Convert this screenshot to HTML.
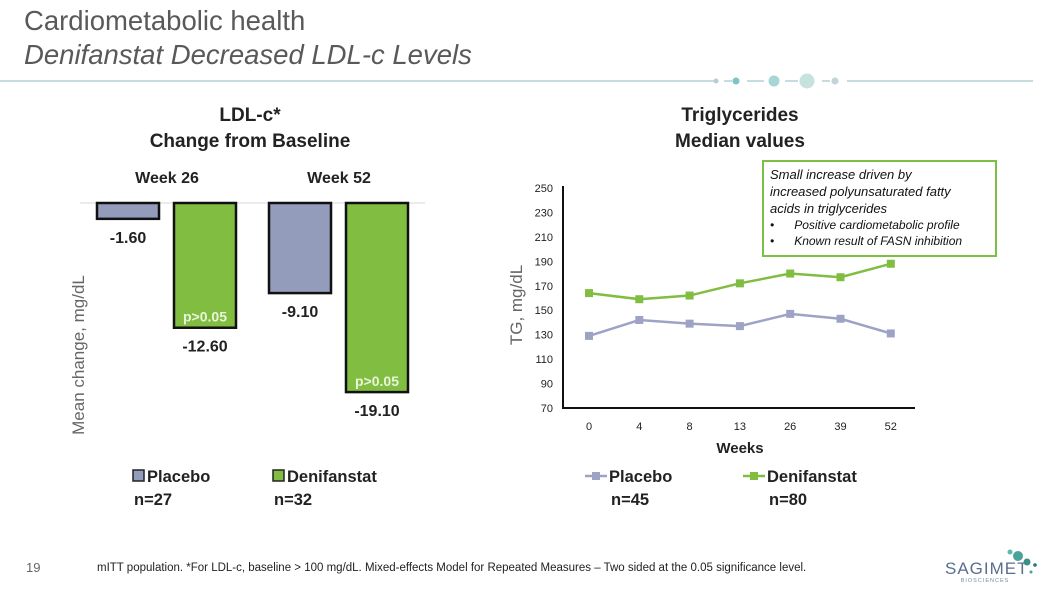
<!DOCTYPE html>
<html><head><meta charset="utf-8">
<style>
body{margin:0;width:1050px;height:591px;background:#fff;font-family:"Liberation Sans",sans-serif;overflow:hidden;position:relative}
.t{position:absolute;white-space:nowrap}
</style></head><body>
<div class="t" style="left:24px;top:4px;font-size:27.5px;color:#595959;line-height:34px">Cardiometabolic health<br><i>Denifanstat Decreased LDL-c Levels</i></div>
<svg class="t" style="left:0;top:0" width="1050" height="100">
<line x1="0" y1="81" x2="715" y2="81" stroke="#8fb8c0" stroke-width="1"/>
<circle cx="716" cy="81" r="2.5" fill="#b8cdd3"/><line x1="724" y1="81" x2="732" y2="81" stroke="#8fb8c0"/>
<circle cx="736" cy="81" r="3.5" fill="#7cc4c6"/><line x1="747" y1="81" x2="764" y2="81" stroke="#8fb8c0"/>
<circle cx="774" cy="81" r="5.5" fill="#a8d6d4"/><line x1="785" y1="81" x2="798" y2="81" stroke="#8fb8c0"/>
<circle cx="807" cy="81" r="7.5" fill="#c6e2dd"/><line x1="822" y1="81" x2="830" y2="81" stroke="#8fb8c0"/>
<circle cx="835" cy="81" r="3.5" fill="#c2d4da"/>
<line x1="847" y1="81" x2="1033" y2="81" stroke="#8fb8c0"/>
</svg>
<div class="t" style="left:110px;width:280px;top:103px;text-align:center;font-size:19px;font-weight:bold;color:#222;line-height:26px">LDL-c*<br>Change from Baseline</div>
<div class="t" style="left:600px;width:280px;top:103px;text-align:center;font-size:19px;font-weight:bold;color:#222;line-height:26px">Triglycerides<br>Median values</div>

<svg class="t" id="bar" style="left:0;top:0" width="500" height="540"></svg>
<svg class="t" id="line" style="top:0;left:480px" width="570" height="540"></svg>

<div class="t" style="left:762px;top:160px;width:235px;height:97px;border:2px solid #7dbf45;padding:4px 0 0 6px;box-sizing:border-box;font-style:italic;color:#111;font-size:13px;line-height:17px">Small increase driven by<br>increased polyunsaturated fatty<br>acids in triglycerides
<div style="font-size:12px;line-height:16px">•&nbsp;&nbsp;&nbsp;&nbsp;&nbsp;&nbsp;Positive cardiometabolic profile<br>•&nbsp;&nbsp;&nbsp;&nbsp;&nbsp;&nbsp;Known result of FASN inhibition</div></div>

<div class="t" style="left:26px;top:560px;font-size:13px;color:#666">19</div>
<div class="t" style="left:97px;top:562px;font-size:11.5px;color:#222">mITT population. *For LDL-c, baseline &gt; 100 mg/dL. Mixed-effects Model for Repeated Measures – Two sided at the 0.05 significance level.</div>
<div class="t" style="left:945px;top:560px;width:80px;text-align:center;color:#5a6e8c">
<div style="font-size:17px;letter-spacing:1px;line-height:18px">SAGIMET</div><div style="font-size:5.5px;letter-spacing:1px;color:#7a8aa6">BIOSCIENCES</div></div>
<svg class="t" style="left:1005px;top:548px" width="40" height="30">
<circle cx="5" cy="4" r="2.5" fill="#5fb8b0"/><circle cx="13" cy="8" r="5" fill="#4aa39a"/><circle cx="22" cy="14" r="3.5" fill="#3a8f88"/><circle cx="30" cy="17" r="1.8" fill="#2c6f88"/><circle cx="26" cy="24" r="1.5" fill="#4aa39a"/>
</svg>

<script>
const NS="http://www.w3.org/2000/svg";
function mk(p,tag,a,txt){const e=document.createElementNS(NS,tag);for(const k in a)e.setAttribute(k,a[k]);if(txt!==undefined)e.textContent=txt;p.appendChild(e);return e;}
// bar chart data
const weeks=["Week 26","Week 52"];
const placeboLDL=[-1.60,-9.10];
const denifLDL=[-12.60,-19.10];
const pLabels=["p>0.05","p>0.05"];
const bar=document.getElementById('bar');
const y0=203, pxPer=9.9;
const yB=v=>y0-v*pxPer;
const groupX=[97,269], bw=62, gap=77;
let ln=mk(bar,'line',{x1:80,y1:y0,x2:425,y2:y0,stroke:'#d9d9d9'});

weeks.forEach((w,i)=>{
 const t=mk(bar,'text',{x:groupX[i]+70,y:183,'text-anchor':'middle','font-size':16,'font-weight':'bold',fill:'#222'},w);
 
 [[placeboLDL[i],'#949cbc',groupX[i]],[denifLDL[i],'#80bd41',groupX[i]+gap]].forEach(([v,c,x],j)=>{
  const r=mk(bar,'rect',{x:x,y:y0,width:bw,height:yB(v)-y0,fill:c,stroke:'#111','stroke-width':2.5});
  
  const l=mk(bar,'text',{x:x+bw/2,y:yB(v)+24,'text-anchor':'middle','font-size':16,'font-weight':'bold',fill:'#222'},v.toFixed(2));
  
  if(j){const p=mk(bar,'text',{x:x+bw/2,y:yB(v)-6,'text-anchor':'middle','font-size':14,'font-weight':'bold',fill:'#e8f5dc'},pLabels[i]);
   }
 });
});
let ya=mk(bar,'text',{transform:'translate(84,355) rotate(-90)','text-anchor':'middle','font-size':17,fill:'#666'},'Mean change, mg/dL');

[['Placebo','n=27','#949cbc',133],['Denifanstat','n=32','#80bd41',273]].forEach(([n,s,c,x])=>{
 const r=mk(bar,'rect',{x:x,y:470,width:11,height:11,fill:c,stroke:'#222','stroke-width':1.5});
 
 const t=mk(bar,'text',{x:x+14,y:482,'font-size':16.5,'font-weight':'bold',fill:'#222'},n);
 
 const t2=mk(bar,'text',{x:x+1,y:505,'font-size':16.5,'font-weight':'bold',fill:'#222'},s);
 
});
// line chart data
const tgWeeks=["0","4","8","13","26","39","52"];
const tgPlacebo=[129,142,139,137,147,143,131];
const tgDenif=[164,159,162,172,180,177,188];
const yTicks=[70,90,110,130,150,170,190,210,230,250];
const line=document.getElementById('line');
const ox=-480;
const yL=v=>408-(v-70)*(220/180);
const xL=i=>589+ox+i*50.3;
let ax=mk(line,'path',{d:`M${563+ox},186 V408 H${915+ox}`,fill:'none',stroke:'#111','stroke-width':2});

yTicks.forEach(v=>{const t=mk(line,'text',{x:553+ox,y:yL(v)+4,'text-anchor':'end','font-size':11,fill:'#222'},v);
 });
tgWeeks.forEach((w,i)=>{const t=mk(line,'text',{x:xL(i),y:430,'text-anchor':'middle','font-size':11,fill:'#222'},w);
 });
let xt=mk(line,'text',{x:740+ox,y:453,'text-anchor':'middle','font-size':15,'font-weight':'bold',fill:'#222'},'Weeks');

let yt=mk(line,'text',{transform:`translate(${522+ox},305) rotate(-90)`,'text-anchor':'middle','font-size':17,fill:'#666'},'TG, mg/dL');

[[tgPlacebo,'#9ea3c6','placebo'],[tgDenif,'#80bd41','denifanstat']].forEach(([d,c,n])=>{
 const p=mk(line,'polyline',{points:d.map((v,i)=>xL(i)+','+yL(v)).join(' '),fill:'none',stroke:c,'stroke-width':2.5});
 
 d.forEach((v,i)=>{const m=mk(line,'rect',{x:xL(i)-4,y:yL(v)-4,width:8,height:8,fill:c});
  });
});
[['Placebo','n=45','#9ea3c6',585],['Denifanstat','n=80','#80bd41',743]].forEach(([n,s,c,x])=>{
 const l=mk(line,'line',{x1:x+ox,y1:476,x2:x+22+ox,y2:476,stroke:c,'stroke-width':2.5});
 
 const m=mk(line,'rect',{x:x+7+ox,y:472,width:8,height:8,fill:c});
 
 const t=mk(line,'text',{x:x+24+ox,y:482,'font-size':16.5,'font-weight':'bold',fill:'#222'},n);
 
 const t2=mk(line,'text',{x:x+26+ox,y:505,'font-size':16.5,'font-weight':'bold',fill:'#222'},s);
 
});
</script>
</body></html>
